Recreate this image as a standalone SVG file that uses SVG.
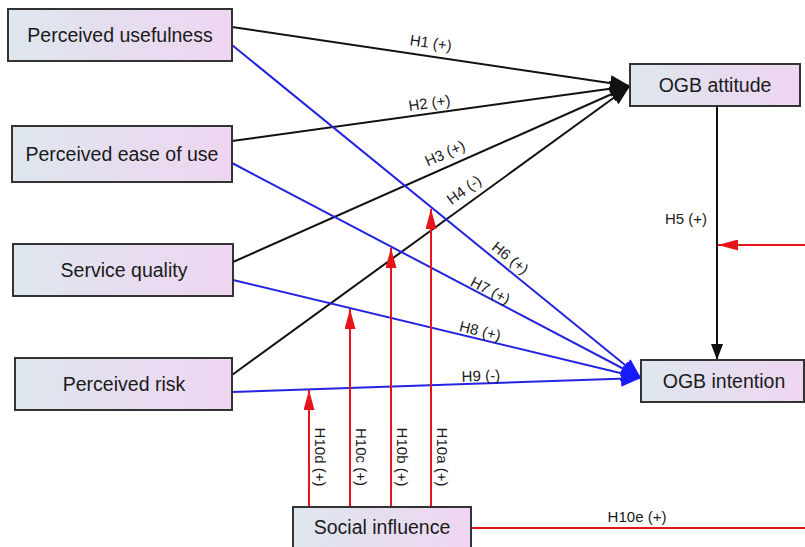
<svg xmlns="http://www.w3.org/2000/svg" width="805" height="547" viewBox="0 0 805 547">
<style>
.box{fill:url(#g);stroke:#333;stroke-width:2}
.nl{font-family:"Liberation Sans",Arial,sans-serif;font-size:19.5px;fill:#1a1a1a;text-anchor:middle}
.el{font-family:"Liberation Sans",Arial,sans-serif;font-size:15px;fill:#1a1a1a;text-anchor:middle}
.k{stroke:#111;stroke-width:2;fill:none}
.b{stroke:#2424e0;stroke-width:2;fill:none}
.r{stroke:#e8141c;stroke-width:2;fill:none}
</style>
<defs>
<linearGradient id="g" x1="0" y1="0" x2="1" y2="0">
<stop offset="0" stop-color="#dee7ed"/>
<stop offset="0.5" stop-color="#e6ddf0"/>
<stop offset="1" stop-color="#efd6f1"/>
</linearGradient>
<marker id="ak" markerUnits="userSpaceOnUse" markerWidth="20" markerHeight="16" refX="20" refY="8" orient="auto"><path d="M0,0 L20,8 L0,16 z" fill="#111"/></marker>
<marker id="ab" markerUnits="userSpaceOnUse" markerWidth="20" markerHeight="16" refX="20" refY="8" orient="auto"><path d="M0,0 L20,8 L0,16 z" fill="#1a1aff"/></marker>
<marker id="ak2" markerUnits="userSpaceOnUse" markerWidth="16" markerHeight="12" refX="16" refY="6" orient="auto"><path d="M0,0 L16,6 L0,12 z" fill="#111"/></marker>
<marker id="ar" markerUnits="userSpaceOnUse" markerWidth="20" markerHeight="11" refX="20" refY="5.5" orient="auto"><path d="M0,0 L20,5.5 L0,11 z" fill="#e8141c"/></marker>
</defs>
<rect width="805" height="547" fill="#fff"/>
<g id="connectors">
<line class="k" x1="232" y1="27" x2="630" y2="86" marker-end="url(#ak)"/>
<line class="k" x1="232" y1="141" x2="630" y2="86" marker-end="url(#ak)"/>
<line class="k" x1="233" y1="262" x2="630" y2="86" marker-end="url(#ak)"/>
<line class="k" x1="232" y1="375" x2="630" y2="86" marker-end="url(#ak)"/>
<line class="b" x1="232" y1="45" x2="641" y2="378" marker-end="url(#ab)"/>
<line class="b" x1="232" y1="163" x2="641" y2="378" marker-end="url(#ab)"/>
<line class="b" x1="233" y1="280" x2="641" y2="378" marker-end="url(#ab)"/>
<line class="b" x1="232" y1="392" x2="641" y2="378" marker-end="url(#ab)"/>
<line class="k" x1="717" y1="106" x2="717" y2="360" marker-end="url(#ak2)"/>
<line class="r" x1="805" y1="245" x2="718" y2="245" marker-end="url(#ar)"/>
<line class="r" x1="309" y1="507" x2="309" y2="390" marker-end="url(#ar)"/>
<line class="r" x1="350" y1="507" x2="350" y2="309" marker-end="url(#ar)"/>
<line class="r" x1="391" y1="507" x2="391" y2="248" marker-end="url(#ar)"/>
<line class="r" x1="431" y1="507" x2="431" y2="209" marker-end="url(#ar)"/>
<line class="r" x1="471" y1="528" x2="805" y2="528"/>
<text class="el" transform="translate(430,48) rotate(8.4)">H1 (+)</text>
<text class="el" transform="translate(430,108) rotate(-7.9)">H2 (+)</text>
<text class="el" transform="translate(447,158) rotate(-24)">H3 (+)</text>
<text class="el" transform="translate(467,194) rotate(-36)">H4 (-)</text>
<text class="el" transform="translate(507,262) rotate(39)">H6 (+)</text>
<text class="el" transform="translate(488,295) rotate(27.7)">H7 (+)</text>
<text class="el" transform="translate(479,336) rotate(13.5)">H8 (+)</text>
<text class="el" transform="translate(481,381) rotate(-2)">H9 (-)</text>
<text class="el" x="686" y="224">H5 (+)</text>
<text class="el" x="637" y="522">H10e (+)</text>
<text class="el" transform="translate(315,457) rotate(90)">H10d (+)</text>
<text class="el" transform="translate(356,457) rotate(90)">H10c (+)</text>
<text class="el" transform="translate(397,457) rotate(90)">H10b (+)</text>
<text class="el" transform="translate(437,457) rotate(90)">H10a (+)</text>
</g>
<g id="pu"><rect class="box" x="8" y="9" width="224" height="52"/><text class="nl" x="120" y="42">Perceived usefulness</text></g>
<g id="peou"><rect class="box" x="12" y="126" width="220" height="56"/><text class="nl" x="122" y="161">Perceived ease of use</text></g>
<g id="sq"><rect class="box" x="13" y="244" width="220" height="52"/><text class="nl" x="124" y="277">Service quality</text></g>
<g id="pr"><rect class="box" x="15" y="358" width="217" height="52"/><text class="nl" x="124" y="391">Perceived risk</text></g>
<g id="att"><rect class="box" x="630" y="64" width="170" height="42"/><text class="nl" x="715" y="92">OGB attitude</text></g>
<g id="int"><rect class="box" x="641" y="360" width="163" height="42"/><text class="nl" x="724" y="388">OGB intention</text></g>
<g id="si"><rect class="box" x="293" y="507" width="178" height="48"/><text class="nl" x="382" y="534">Social influence</text></g>
</svg>
